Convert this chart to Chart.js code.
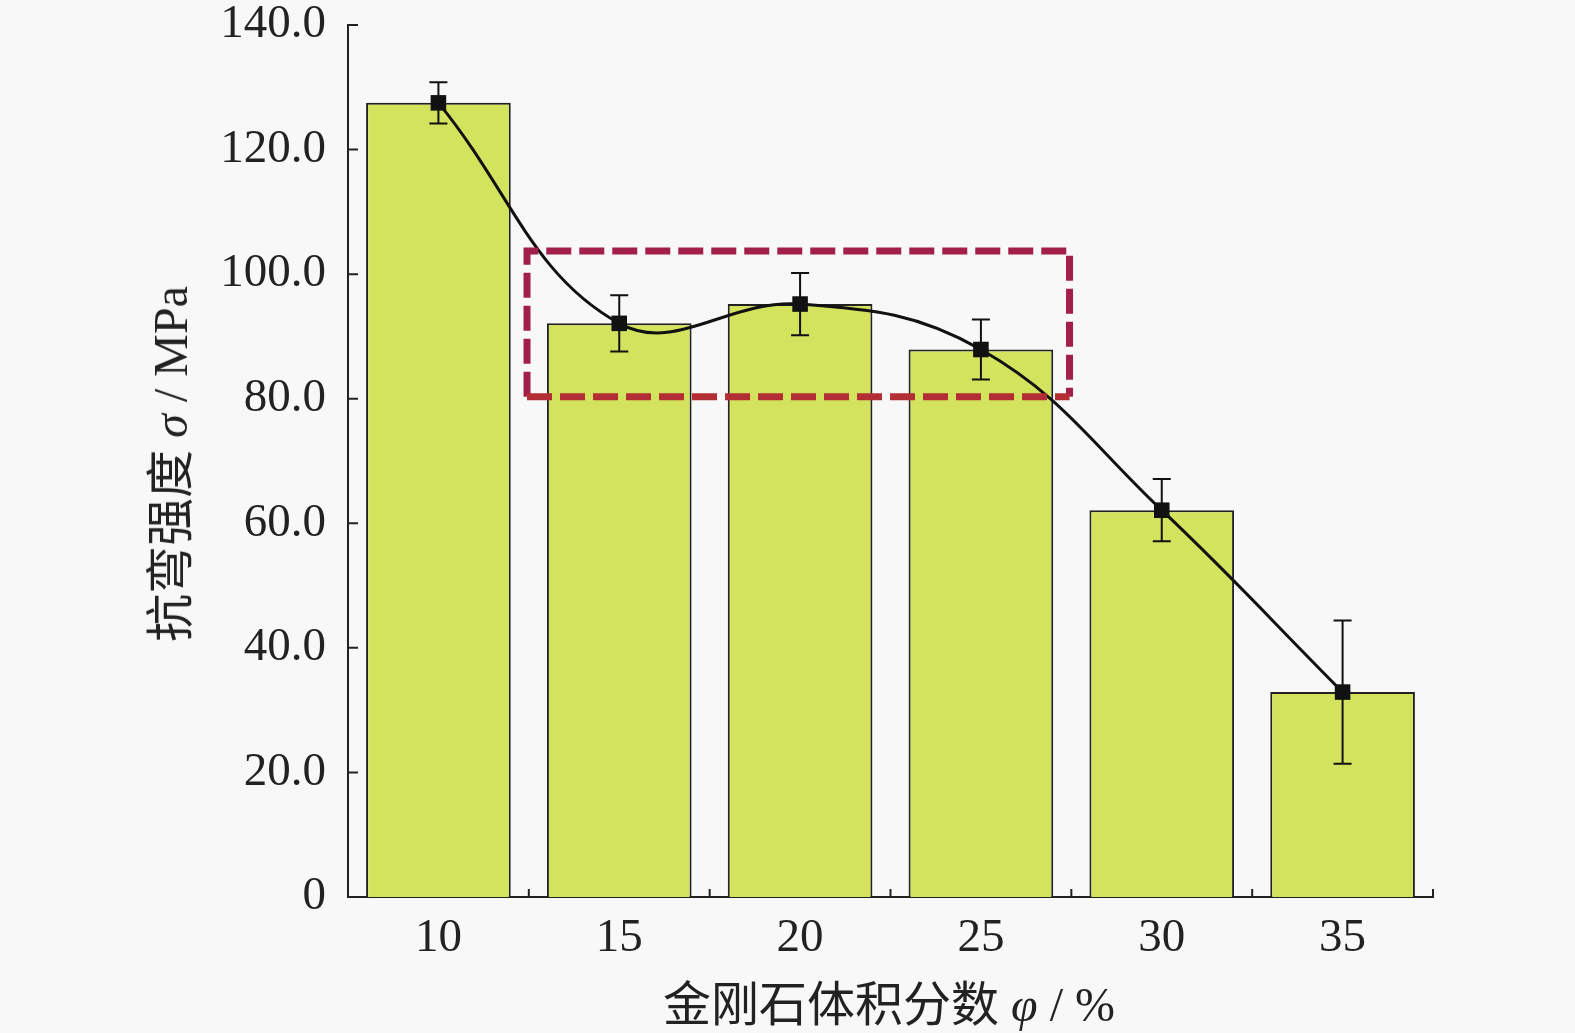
<!DOCTYPE html>
<html>
<head>
<meta charset="utf-8">
<script src="https://cdn.jsdelivr.net/npm/chart.js@4.4.0/dist/chart.umd.min.js"></script>
<style>
  body { margin: 0; background: #f8f8f8; }
  #wrap { position: relative; width: 1575px; height: 1033px; }
  canvas { display: block; }
  .titulo { position: absolute; font: 48px "Liberation Serif", "Noto Sans CJK SC", serif; color: #222; white-space: nowrap; }
  .titulo i { font-family: "Liberation Serif", serif; }
  #tituloY { left: 166px; top: 464px; transform: translate(-50%, -50%) rotate(-90deg); }
  #tituloX { left: 889px; top: 1000px; transform: translate(-50%, -50%); }
</style>
</head>
<body>
<div id="wrap">
  <canvas id="grafico" width="1575" height="1033"></canvas>
  <div class="titulo" id="tituloY">抗弯强度 <i>σ</i> / MPa</div>
  <div class="titulo" id="tituloX">金刚石体积分数 <i>φ</i> / %</div>
</div>
<script>
// datos
const categorias = ["10", "15", "20", "25", "30", "35"];
const resistencia = [127.5, 92.1, 95.2, 87.9, 62.1, 32.9];
const errores = [3.3, 4.5, 5.0, 4.8, 5.0, 11.5];
const ticksY = [0, 20, 40, 60, 80, 100, 120, 140];
// recuadro punteado (índice de categoría, valor)
const recuadroX = [0.49, 3.49];
const recuadroY = [80.3, 103.7];

const colorTexto = "#222";
const fuente = { family: "'Liberation Serif', serif", size: 47 };

// barras de error antes de la línea, recuadro y marcas al final
const extras = {
  id: "extras",
  beforeDatasetDraw(chart, args) {
    if (args.meta.type !== "line") return;
    const { ctx, scales: { x, y } } = chart;
    ctx.save();
    ctx.strokeStyle = "#111";
    ctx.lineWidth = 2;
    resistencia.forEach((v, i) => {
      const px = x.getPixelForValue(i);
      const arriba = y.getPixelForValue(v + errores[i]);
      const abajo = y.getPixelForValue(v - errores[i]);
      ctx.beginPath();
      ctx.moveTo(px, arriba); ctx.lineTo(px, abajo);
      ctx.moveTo(px - 9, arriba); ctx.lineTo(px + 9, arriba);
      ctx.moveTo(px - 9, abajo); ctx.lineTo(px + 9, abajo);
      ctx.stroke();
    });
    ctx.restore();
  },
  afterDatasetsDraw(chart) {
    const { ctx, scales: { x, y }, chartArea: a } = chart;
    ctx.save();
    // marcas hacia dentro
    ctx.strokeStyle = colorTexto;
    ctx.lineWidth = 2;
    ctx.beginPath();
    ticksY.forEach(t => {
      const py = y.getPixelForValue(t);
      ctx.moveTo(a.left, py); ctx.lineTo(a.left + 10, py);
    });
    for (let i = 0; i <= categorias.length; i++) {
      const px = x.getPixelForValue(i - 0.5);
      ctx.moveTo(px, a.bottom); ctx.lineTo(px, a.bottom - 8);
    }
    ctx.stroke();

    // recuadro punteado
    const x0 = x.getPixelForValue(recuadroX[0]);
    const x1 = x.getPixelForValue(recuadroX[1]);
    const y0 = y.getPixelForValue(recuadroY[1]);
    const y1 = y.getPixelForValue(recuadroY[0]);
    ctx.lineWidth = 7;
    ctx.setLineDash([25, 8]);
    ctx.strokeStyle = "#a11f48";
    ctx.beginPath();
    ctx.moveTo(x0, y1); ctx.lineTo(x0, y0); ctx.lineTo(x1, y0); ctx.lineTo(x1, y1);
    ctx.stroke();
    ctx.strokeStyle = "#b22d34";
    ctx.beginPath();
    ctx.moveTo(x0, y1); ctx.lineTo(x1, y1);
    ctx.stroke();
    ctx.restore();
  }
};

new Chart(document.getElementById("grafico"), {
  data: {
    labels: categorias,
    datasets: [
      {
        type: "line",
        data: resistencia,
        order: 0,
        borderColor: "#111",
        borderWidth: 3,
        tension: 0.4,
        pointStyle: "rect",
        pointRadius: 11,
        pointBackgroundColor: "#111",
        pointBorderColor: "#111",
        pointBorderWidth: 0
      },
      {
        type: "bar",
        data: resistencia,
        order: 1,
        backgroundColor: "#d4e35e",
        borderColor: "#222",
        borderWidth: 2,
        categoryPercentage: 0.8,
        barPercentage: 1
      }
    ]
  },
  options: {
    responsive: false,
    animation: false,
    layout: { padding: { top: 25, right: 142, bottom: 0, left: 0 } },
    plugins: { legend: { display: false }, tooltip: { enabled: false } },
    scales: {
      x: {
        type: "category",
        offset: true,
        grid: { display: false, drawTicks: false },
        border: { display: true, color: colorTexto, width: 2 },
        ticks: { color: colorTexto, font: fuente, padding: 13 },
        afterFit: s => { s.height = 136; s.paddingLeft = 0; s.paddingRight = 0; }
      },
      y: {
        min: 0,
        max: 140,
        afterBuildTicks: s => { s.ticks = ticksY.map(v => ({ value: v })); },
        grid: { display: false, drawTicks: false },
        border: { display: true, color: colorTexto, width: 2 },
        ticks: {
          color: colorTexto,
          font: fuente,
          padding: 22,
          callback: v => v === 0 ? "0" : v.toFixed(1)
        },
        afterFit: s => { s.width = 348; s.paddingTop = 0; s.paddingBottom = 0; }
      }
    }
  },
  plugins: [extras]
});
</script>
</body>
</html>
